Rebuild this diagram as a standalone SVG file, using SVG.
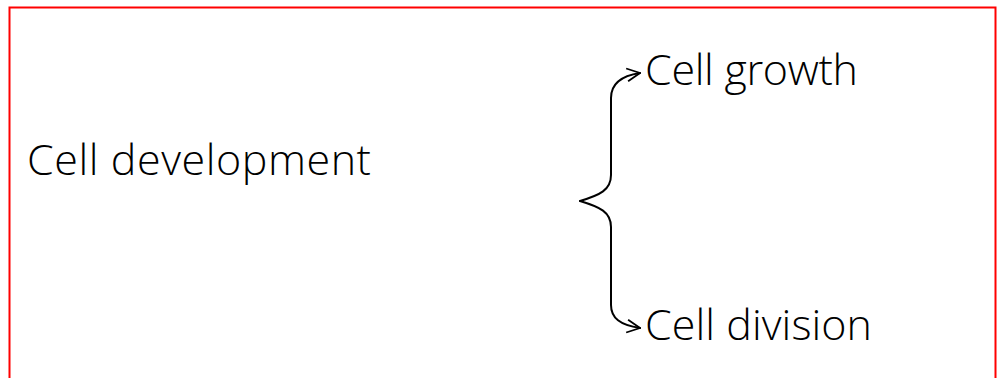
<svg xmlns="http://www.w3.org/2000/svg" width="1000" height="378" viewBox="0 0 1000 378">
  <style>
    .label { font-family: "Open Sans", "Noto Sans", "DejaVu Sans", sans-serif; font-weight: 300; font-size: 43px; fill: #000; }
    .conn { fill: none; stroke: #000; stroke-width: 2; stroke-linecap: round; stroke-linejoin: round; }
  </style>
  <defs>
    <marker id="arrow" viewBox="0 0 16 16" refX="15" refY="8" markerWidth="16" markerHeight="16" markerUnits="userSpaceOnUse" orient="auto">
      <path d="M2,1.5 L15,8 L2,14.5" fill="none" stroke="#000" stroke-width="1.8" stroke-linejoin="miter"/>
    </marker>
  </defs>
  <rect x="0" y="0" width="1000" height="378" fill="#fff"/>
  <!-- frame -->
  <path d="M9.5,378 V7.5 H995.5 V378" fill="none" stroke="#ff0000" stroke-width="2"/>

  <g id="node-development">
    <text class="label" x="27" y="175" textLength="344" lengthAdjust="spacing">Cell development</text>
  </g>
  <g id="node-growth">
    <text class="label" x="645" y="85" textLength="213" lengthAdjust="spacing">Cell growth</text>
  </g>
  <g id="node-division">
    <text class="label" x="645" y="340" textLength="227" lengthAdjust="spacing">Cell division</text>
  </g>

  <g id="connectors">
    <path class="conn" d="M580,201 C600,195 611,190 611,175 V98 C611,85 620,76 640,73" marker-end="url(#arrow)"/>
    <path class="conn" d="M580,201 C600,207 611,212 611,227 V305 C611,318 620,325 640,328" marker-end="url(#arrow)"/>
  </g>
</svg>
